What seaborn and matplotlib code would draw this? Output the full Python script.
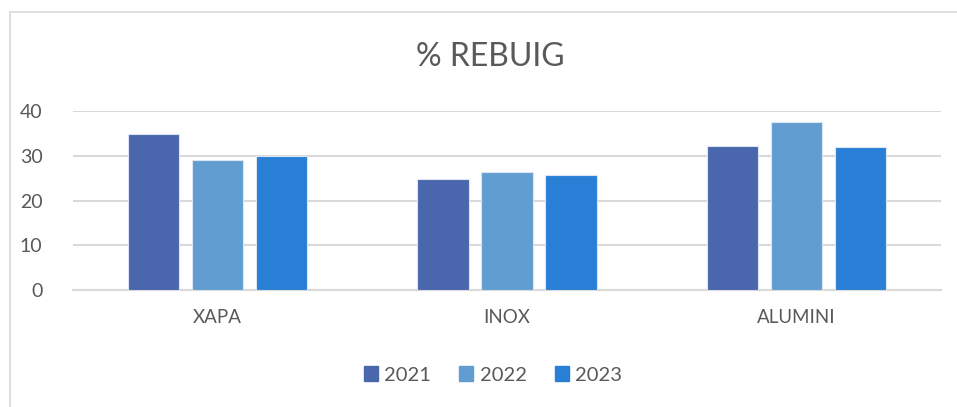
import matplotlib.pyplot as plt
import matplotlib.patches as mpatches
import pandas as pd
import seaborn as sns

categories = ["XAPA", "INOX", "ALUMINI"]
years = ["2021", "2022", "2023"]
vals_2021 = [34.8, 24.9, 32.1]
vals_2022 = [29.1, 26.4, 37.5]
vals_2023 = [29.9, 25.6, 31.9]
colors = ["#4A66AC", "#629DD1", "#297FD5"]

df = pd.DataFrame({
    "category": categories * 3,
    "year": [y for y in years for _ in categories],
    "value": vals_2021 + vals_2022 + vals_2023,
})

sns.set_theme(style="white")
plt.rcParams["font.family"] = ["Lato", "DejaVu Sans"]

fig = plt.figure(figsize=(9.57, 4.07), dpi=100)
ax = fig.add_axes([73 / 957, 1 - 290 / 407, 868 / 957, 179 / 407])

sns.barplot(
    data=df, x="category", y="value", hue="year", palette=colors,
    saturation=1, width=0.665, gap=0.2, edgecolor="#DCE6F2", linewidth=0.8,
    ax=ax, legend=False, zorder=3,
)

ax.set_xlim(-0.5, 2.5)
ax.set_ylim(0, 40)
ax.set_yticks([0, 10, 20, 30, 40])
ax.yaxis.grid(True, color="#D9D9D9", linewidth=1.5, zorder=0)
ax.set_axisbelow(True)
for s in ["top", "right", "left"]:
    ax.spines[s].set_visible(False)
ax.spines["bottom"].set_color("#D9D9D9")
ax.spines["bottom"].set_linewidth(1.5)
ax.tick_params(axis="y", length=0, labelsize=14, labelcolor="#595959", pad=22)
ax.tick_params(axis="x", length=0, labelsize=13.5, labelcolor="#595959", pad=14)
ax.set_xlabel("")
ax.set_ylabel("")

fig.text(490 / 957, 1 - 57 / 407, "% REBUIG", ha="center", va="center",
         fontsize=23, color="#595959")

handles = [mpatches.Patch(color=c, label=y) for c, y in zip(colors, years)]
fig.legend(handles=handles, loc="center", bbox_to_anchor=(493 / 957, 1 - 375 / 407),
           ncol=3, frameon=False, fontsize=14.5, handlelength=0.7, handleheight=0.7,
           handletextpad=0.3, columnspacing=1.4, labelcolor="#595959")

# chart border (cut off at right and bottom)
fig.patches.append(mpatches.Rectangle((10 / 957, -0.1), 1.1, 0.1 + 1 - 12 / 407,
                                      transform=fig.transFigure, fill=False,
                                      edgecolor="#D9D9D9", linewidth=1.2))

fig.savefig("out.png", dpi=100)
